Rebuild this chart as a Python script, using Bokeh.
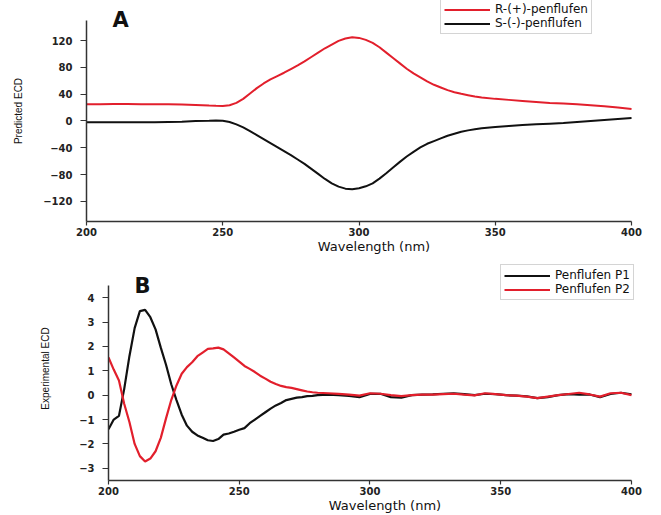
from bokeh.plotting import figure
from bokeh.models import Range1d, Legend, LegendItem, Label
from bokeh.embed import file_html
from bokeh.resources import INLINE

# ---------------- Panel A data (predicted ECD) ----------------
wl_top = [200, 205, 210, 215, 220, 225, 230, 235, 240,
          245, 247.5, 250, 252.5, 255, 257.5, 260, 262.5, 265, 267.5, 270, 272.5,
          275, 277.5, 280, 282.5, 285, 287.5, 290, 292.5, 295, 297.5, 300, 302.5,
          305, 307.5, 310, 312.5, 315, 317.5, 320, 322.5, 325, 327.5, 330, 332.5,
          335, 337.5, 340, 342.5, 345,
          350, 355, 360, 365, 370, 375, 380, 385, 390, 395, 400]
r_plus = [25.0, 25.0, 25.2, 25.2, 25.0, 25.0, 24.8, 24.5, 24.0,
          23.0, 22.7, 22.5, 23.5, 27.0, 33.0, 41.0, 49.0, 56.0, 62.0, 67.0, 72.0,
          77.5, 83.0, 89.0, 95.5, 102.0, 108.5, 114.0, 119.5, 123.0, 125.0, 124.0, 121.0,
          116.5, 110.0, 102.0, 94.0, 86.0, 78.0, 71.0, 65.0, 59.0, 54.0, 50.0, 46.0,
          43.0, 40.5, 38.5, 36.5, 35.0,
          33.0, 31.5, 30.0, 28.5, 27.0, 26.0, 25.0, 23.5, 22.0, 20.0, 18.0]
s_minus = [-2.0, -2.0, -2.0, -2.0, -2.0, -2.0, -1.5, -1.0, 0.0,
           0.5, 0.8, 0.5, -1.5, -5.0, -9.5, -15.0, -21.0, -27.0, -33.0, -39.0, -45.0,
           -51.0, -57.5, -64.0, -71.5, -79.0, -86.5, -93.0, -98.0, -101.0, -102.0, -100.5, -97.5,
           -93.0, -86.0, -78.0, -69.5, -61.0, -53.0, -46.0, -39.5, -34.0, -30.0, -26.0, -22.0,
           -19.0, -16.0, -14.0, -12.5, -11.0,
           -9.0, -7.5, -6.0, -5.0, -4.0, -3.0, -1.5, 0.0, 1.5, 3.0, 4.5]

# ---------------- Panel B data (experimental ECD) ----------------
wl_bot = [200, 202, 204, 206, 208, 210, 212, 214, 216, 218, 220, 222, 224, 226, 228,
          230, 232, 234, 236, 238, 240, 242, 244, 246, 248, 250, 252, 254, 256, 258,
          260, 262, 264, 266, 268, 270, 272, 274, 276, 278, 280,
          284, 288, 292, 296, 300, 304, 308, 312, 316, 320, 324, 328, 332, 336, 340,
          344, 348, 352, 356, 360, 364, 368, 372, 376, 380, 384, 388, 392, 396, 400]
p1_vals = [-1.40, -1.00, -0.85, 0.25, 1.60, 2.75, 3.45, 3.50, 3.20, 2.70, 1.95, 1.25,
           0.45, -0.20, -0.80, -1.25, -1.50, -1.65, -1.75, -1.85, -1.88, -1.80, -1.62,
           -1.57, -1.50, -1.42, -1.35, -1.15, -1.00, -0.85, -0.70, -0.55, -0.42, -0.32,
           -0.20, -0.15, -0.10, -0.08, -0.04, -0.03, 0.00,
           0.02, 0.00, -0.03, -0.08, 0.05, 0.06, -0.08, -0.10, 0.00, 0.02, 0.03, 0.06,
           0.08, 0.04, 0.00, 0.06, 0.04, 0.00, -0.02, -0.05, -0.12, -0.08, 0.00, 0.04,
           0.02, 0.03, -0.08, 0.05, 0.10, 0.03]
p2_vals = [1.55, 1.05, 0.60, -0.35, -1.10, -2.00, -2.50, -2.72, -2.60, -2.30, -1.75,
           -0.95, -0.20, 0.40, 0.88, 1.15, 1.35, 1.60, 1.75, 1.90, 1.92, 1.95, 1.88,
           1.72, 1.55, 1.38, 1.20, 1.08, 0.95, 0.80, 0.68, 0.55, 0.46, 0.38, 0.33, 0.30,
           0.25, 0.20, 0.15, 0.12, 0.10,
           0.08, 0.05, 0.02, -0.02, 0.08, 0.06, 0.00, -0.04, 0.00, 0.02, 0.02, 0.04,
           0.06, 0.02, -0.01, 0.08, 0.04, 0.00, -0.02, -0.06, -0.12, -0.06, 0.00, 0.05,
           0.10, 0.03, -0.06, 0.08, 0.10, 0.00]

top_xticks = [200, 250, 300, 350, 400]
top_yticks = [-120, -80, -40, 0, 40, 80, 120]
bot_xticks = [200, 250, 300, 350, 400]
bot_yticks = [-3, -2, -1, 0, 1, 2, 3, 4]

RED = "#e21f2c"
BLACK = "#111111"
AXC = "#333333"


def style(p, xticks, yticks, ylabel, ylab_standoff, xb, yb):
    p.xgrid.visible = False
    p.ygrid.visible = False
    p.outline_line_color = None
    p.background_fill_color = "white"
    p.border_fill_color = "white"
    p.xaxis.ticker = xticks
    p.yaxis.ticker = yticks
    p.xaxis.ticker.num_minor_ticks = 2
    p.yaxis.ticker.num_minor_ticks = 2
    p.xaxis.bounds = xb
    p.yaxis.bounds = yb
    for ax in (p.xaxis, p.yaxis):
        ax.axis_line_color = AXC
        ax.axis_line_width = 1.5
        ax.major_tick_line_color = AXC
        ax.minor_tick_line_color = AXC
        ax.major_tick_line_width = 1.2
        ax.minor_tick_line_width = 1.0
        ax.major_tick_in = 0
        ax.minor_tick_in = 0
        ax.major_label_text_font = "DejaVu Sans"
        ax.major_label_text_font_style = "bold"
        ax.major_label_text_font_size = "10px"
        ax.major_label_text_color = "#222222"
        ax.axis_label_text_font_style = "normal"
        ax.axis_label_text_color = "#111111"
    p.xaxis.major_tick_out = 4
    p.xaxis.minor_tick_out = 3
    p.xaxis.major_label_standoff = 2
    p.xaxis.axis_label = "Wavelength (nm)"
    p.xaxis.axis_label_text_font = "DejaVu Sans"
    p.xaxis.axis_label_text_font_size = "13px"
    p.xaxis.axis_label_standoff = 0
    p.yaxis.major_tick_out = 6
    p.yaxis.minor_tick_out = 3
    p.yaxis.major_label_standoff = 8
    p.yaxis.axis_label = ylabel
    p.yaxis.axis_label_text_font = "Liberation Sans"
    p.yaxis.axis_label_text_font_size = "10px"
    p.yaxis.axis_label_standoff = ylab_standoff


def style_legend(lg):
    lg.label_text_font = "DejaVu Sans"
    lg.label_text_font_size = "12px"
    lg.label_text_line_height = 1.0
    lg.label_text_color = "#111111"
    lg.glyph_width = 46
    lg.glyph_height = 11
    lg.label_height = 11
    lg.label_standoff = 5
    lg.spacing = 0
    lg.padding = 3
    lg.margin = 0
    lg.border_line_color = "#aaaaaa"
    lg.border_line_width = 1
    lg.background_fill_color = "white"
    lg.background_fill_alpha = 1.0


# ---------------- Panel A ----------------
pa = figure(width=661, height=256, output_backend="svg", toolbar_location=None,
            x_range=Range1d(200, 411.0), y_range=Range1d(-150, 179.8),
            min_border_left=86, min_border_right=0, min_border_top=0,
            min_border_bottom=34)
style(pa, top_xticks, top_yticks, "Predicted ECD", 16, (200, 400), (-150, 150))
ra = pa.line(wl_top, r_plus, line_color=RED, line_width=2)
sa = pa.line(wl_top, s_minus, line_color=BLACK, line_width=2)
leg_a = Legend(items=[LegendItem(label="R-(+)-penflufen", renderers=[ra]),
                      LegendItem(label="S-(-)-penflufen", renderers=[sa])],
               location=(354, 187))
style_legend(leg_a)
pa.add_layout(leg_a)
pa.add_layout(Label(x=209.5, y=151.4, text="A", text_font="DejaVu Sans",
                    text_font_style="bold", text_font_size="21px",
                    text_color="#111111", text_baseline="alphabetic"))

# ---------------- Panel B ----------------
pb = figure(width=661, height=259, output_backend="svg", toolbar_location=None,
            x_range=Range1d(200, 411.5), y_range=Range1d(-3.5, 5.69),
            min_border_left=108, min_border_right=0, min_border_top=0,
            min_border_bottom=33)
style(pb, bot_xticks, bot_yticks, "Experimental ECD", 25, (200, 400), (-3.5, 4.5))
r1 = pb.line(wl_bot, p1_vals, line_color=BLACK, line_width=2.2)
r2 = pb.line(wl_bot, p2_vals, line_color=RED, line_width=2.2)
leg_b = Legend(items=[LegendItem(label="Penflufen P1", renderers=[r1]),
                      LegendItem(label="Penflufen P2", renderers=[r2])],
               location=(392, 180))
style_legend(leg_b)
pb.add_layout(leg_b)
pb.add_layout(Label(x=209.9, y=4.5, text="B", text_font="DejaVu Sans",
                    text_font_style="bold", text_font_size="21px",
                    text_color="#111111", text_baseline="alphabetic"))

open("out.html", "w").write(file_html([pa, pb], INLINE))
